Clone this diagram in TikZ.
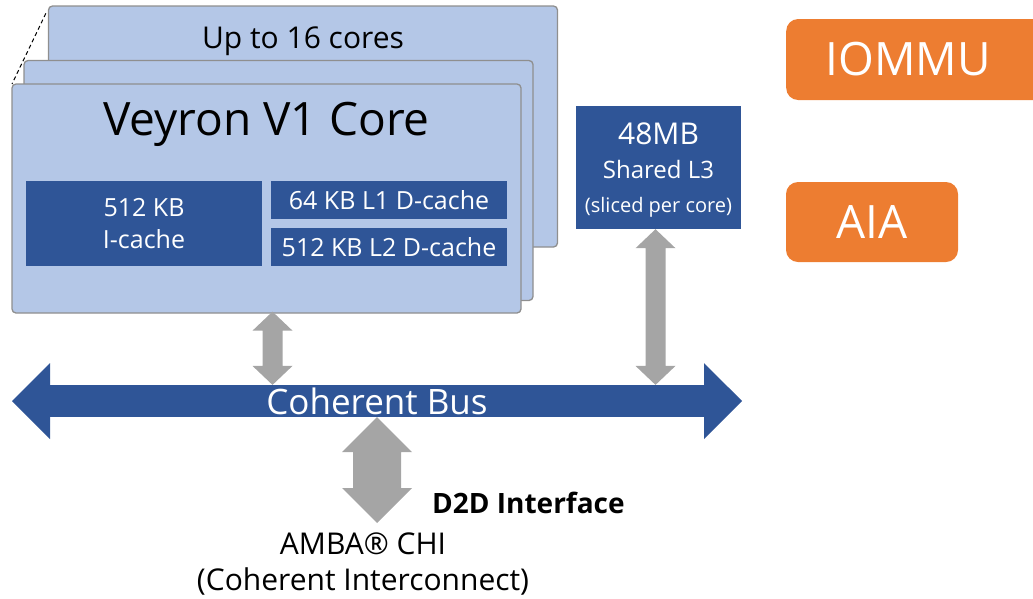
\documentclass[tikz,border=0pt]{standalone}
\usepackage{fontspec}
\setmainfont{Open Sans}
\usepackage{tikz}
\usetikzlibrary{calc,positioning,shapes.arrows}
\definecolor{cardblue}{RGB}{180,199,231}
\definecolor{cardedge}{RGB}{143,143,143}
\definecolor{darkblue}{RGB}{47,85,151}
\definecolor{extorange}{RGB}{237,125,49}
\definecolor{linkgray}{RGB}{165,165,165}
\tikzset{
  card/.style={draw=cardedge, line width=1.3pt, fill=cardblue, rounded corners=4pt, minimum width=509pt, inner sep=0pt},
  cache/.style={fill=darkblue, text=white, inner sep=0pt, minimum width=236pt, align=center, font=\fontsize{25}{32}\selectfont},
  ext/.style={fill=extorange, text=white, rounded corners=12pt, inner sep=0pt, minimum height=81pt, font=\fontsize{46}{50}\selectfont},
}
\newcommand{\linkarrow}[5]{%
  \fill[linkgray] let \p1=#1, \p2=#2 in
    (\x1,\y1) -- ++(#4,-#5) -- ++(#3-#4,0) -- (\x1+#3,\y2+#5) -- ++(#4-#3,0) -- (\x1,\y2)
    -- (\x1-#4,\y2+#5) -- ++(#4-#3,0) -- (\x1-#3,\y1-#5) -- ++(#3-#4,0) -- cycle;}

\begin{document}
\begin{tikzpicture}[x=1pt, y=-1pt]
\clip (0,0) rectangle (1033,598);
\node[card, minimum height=241pt] (back) at (303,126.5) {};
\node[anchor=base, inner sep=0pt, font=\fontsize{30}{34}\selectfont] (cores) at ($(back.north)+(0,43)$) {Up to 16 cores};
\draw[dash pattern=on 4pt off 3pt, line width=1pt] ([xshift=-2pt, yshift=-8pt]back.north west) -- (12,84);
\node[card, minimum height=240pt] (middle) at (278.5,180.5) {};
\node[card, minimum height=229pt] (front) at (266.5,198.5) {};
\node[anchor=base, inner sep=0pt, font=\fontsize{46}{52}\selectfont] (title) at ($(front.north)+(0,52)$) {Veyron V1 Core};
\node[cache, minimum height=85pt] (icache) at (144,223.5) {512 KB\\I-cache};
\node[cache, minimum height=38pt] (lone) at (389,200) {64 KB L1 D-cache};
\node[cache, minimum height=38pt] (ltwo) at (389,247) {512 KB L2 D-cache};
\node[fill=darkblue, inner sep=0pt, minimum width=165pt, minimum height=123pt] (lthree) at (658.5,167.5) {};
\node[text=white, inner sep=0pt, align=center, font=\fontsize{24}{34}\selectfont] (lthreetext) at ($(lthree)+(0,3)$)
  {{\fontsize{30}{34}\selectfont 48MB}\\Shared L3\\{\fontsize{20}{31}\selectfont (sliced per core)}};
\node[ext, anchor=west, minimum width=300pt] (iommu) at (786,59.5) {};
\node[inner sep=0pt, text=white, font=\fontsize{46}{50}\selectfont] (iommutext) at ([xshift=122pt]iommu.west) {IOMMU};
\node[ext, minimum width=172pt, minimum height=80pt] (aia) at (872,222) {AIA};
\node[double arrow, fill=darkblue, text=white, inner sep=0pt, minimum height=730pt, minimum width=76pt,
  double arrow head extend=19pt, font=\fontsize{35}{40}\selectfont] (bus) at (377,401) {Coherent Bus};
\coordinate (chi) at (377,523);
\linkarrow{($(front.south)+(6,-2)$)}{(bus.north)}{10pt}{20pt}{19pt}
\linkarrow{($(lthree.south)+(-3,0)$)}{(bus.north)}{10pt}{20pt}{19pt}
\linkarrow{(bus.south)}{(chi)}{24pt}{35pt}{35pt}
\node[anchor=west, inner sep=0pt, font=\bfseries\fontsize{28}{30}\selectfont] (dtod) at (432,503) {D2D Interface};
\node[anchor=north, inner sep=0pt, align=center, font=\fontsize{30}{36}\selectfont] (amba) at ($(chi)+(-14,10)$) {AMBA® CHI\\(Coherent Interconnect)};
\end{tikzpicture}
\end{document}
